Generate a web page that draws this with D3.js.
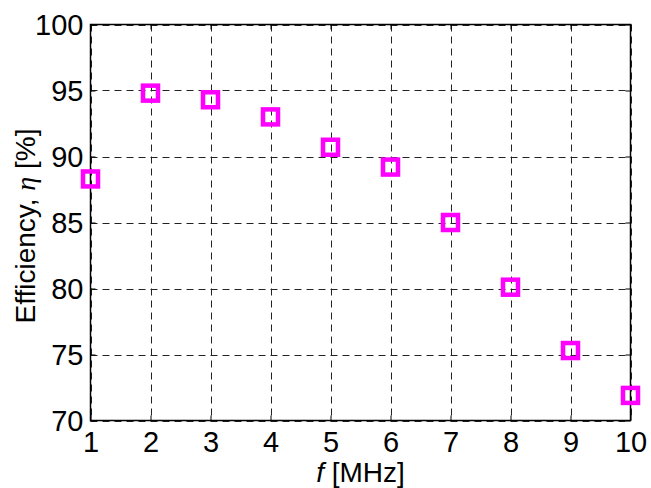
<!DOCTYPE html>
<html><head><meta charset="utf-8">
<script src="https://cdn.jsdelivr.net/npm/d3@7/dist/d3.min.js"></script>
<style>
html,body{margin:0;padding:0;background:#fff;}
svg{display:block;font-family:Arial,"Liberation Sans",sans-serif;}
</style></head><body>
<svg id="c" width="651" height="488"></svg>
<script>
const freq = [1, 2, 3, 4, 5, 6, 7, 8, 9, 10];
const efficiency = [88.3, 94.8, 94.3, 93.0, 90.7, 89.2, 85.0, 80.1, 75.3, 71.9];
const xTicks = [1, 2, 3, 4, 5, 6, 7, 8, 9, 10];
const yTicks = [70, 75, 80, 85, 90, 95, 100];

const svg = d3.select("#c");
const L = 90.5, R = 630.5, T = 24.5, B = 420.5;
const x = d3.scaleLinear().domain([1, 10]).range([L, R]);
const y = d3.scaleLinear().domain([70, 100]).range([B, T]);

// grid
const grid = svg.append("g");
grid.selectAll("line.vx").data(xTicks).enter().append("line")
  .attr("x1", d => Math.round(x(d)) + 0.5).attr("x2", d => Math.round(x(d)) + 0.5)
  .attr("y1", T).attr("y2", B)
  .attr("stroke", "#222").attr("stroke-width", 1).attr("stroke-dasharray", "7,5");
grid.selectAll("line.hy").data(yTicks).enter().append("line")
  .attr("y1", d => Math.round(y(d)) + 0.5).attr("y2", d => Math.round(y(d)) + 0.5)
  .attr("x1", L).attr("x2", R)
  .attr("stroke", "#222").attr("stroke-width", 1).attr("stroke-dasharray", "7,5");

// axes
const fs = "29px";
const xAxis = d3.axisBottom(x).tickValues(xTicks).tickSize(-5).tickPadding(11).tickFormat(d3.format("d"));
const yAxis = d3.axisLeft(y).tickValues(yTicks).tickSize(-5).tickPadding(7).tickFormat(d3.format("d"));
const xTop = d3.axisTop(x).tickValues(xTicks).tickSize(-5).tickFormat("");
const yRight = d3.axisRight(y).tickValues(yTicks).tickSize(-5).tickFormat("");
const gx = svg.append("g").attr("transform", `translate(0,${B})`).call(xAxis);
const gy = svg.append("g").attr("transform", `translate(${L},0)`).call(yAxis);
const gt = svg.append("g").attr("transform", `translate(0,${T})`).call(xTop);
const gr = svg.append("g").attr("transform", `translate(${R},0)`).call(yRight);
[gx, gy, gt, gr].forEach(g => {
  g.select(".domain").remove();
  g.selectAll("line").attr("stroke", "#000");
  g.selectAll("text").attr("font-size", fs).attr("fill", "#000").attr("font-family", "Arial, 'Liberation Sans', sans-serif");
});
gx.selectAll("text").attr("dy", "0.71em");
gy.selectAll("text").attr("dy", "0.36em");
// box
svg.append("rect").attr("x", L).attr("y", T).attr("width", R - L).attr("height", B - T)
  .attr("fill", "none").attr("stroke", "#000").attr("stroke-width", 1.5);

// markers
const s = 15;
svg.append("g").selectAll("rect").data(freq).enter().append("rect")
  .attr("x", (d) => x(d) - s / 2)
  .attr("y", (d, i) => y(efficiency[i]) - s / 2)
  .attr("width", s).attr("height", s)
  .attr("fill", "none").attr("stroke", "#ff00ff").attr("stroke-width", 4.5);

// labels
const xl = svg.append("text").attr("x", (L + R) / 2).attr("y", 482).attr("text-anchor", "middle")
  .attr("font-size", "28px").attr("fill", "#000");
xl.append("tspan").attr("font-style", "italic").text("f");
xl.append("tspan").text(" [MHz]");

const yl = svg.append("text").attr("transform", "translate(35,226) rotate(-90)").attr("text-anchor", "middle")
  .attr("font-size", "28px").attr("fill", "#000");
yl.append("tspan").text("Efficiency, ");
yl.append("tspan").attr("font-style", "italic").attr("font-family", "'Liberation Serif', serif").text("η");
yl.append("tspan").text(" [%]");
</script>
</body></html>
